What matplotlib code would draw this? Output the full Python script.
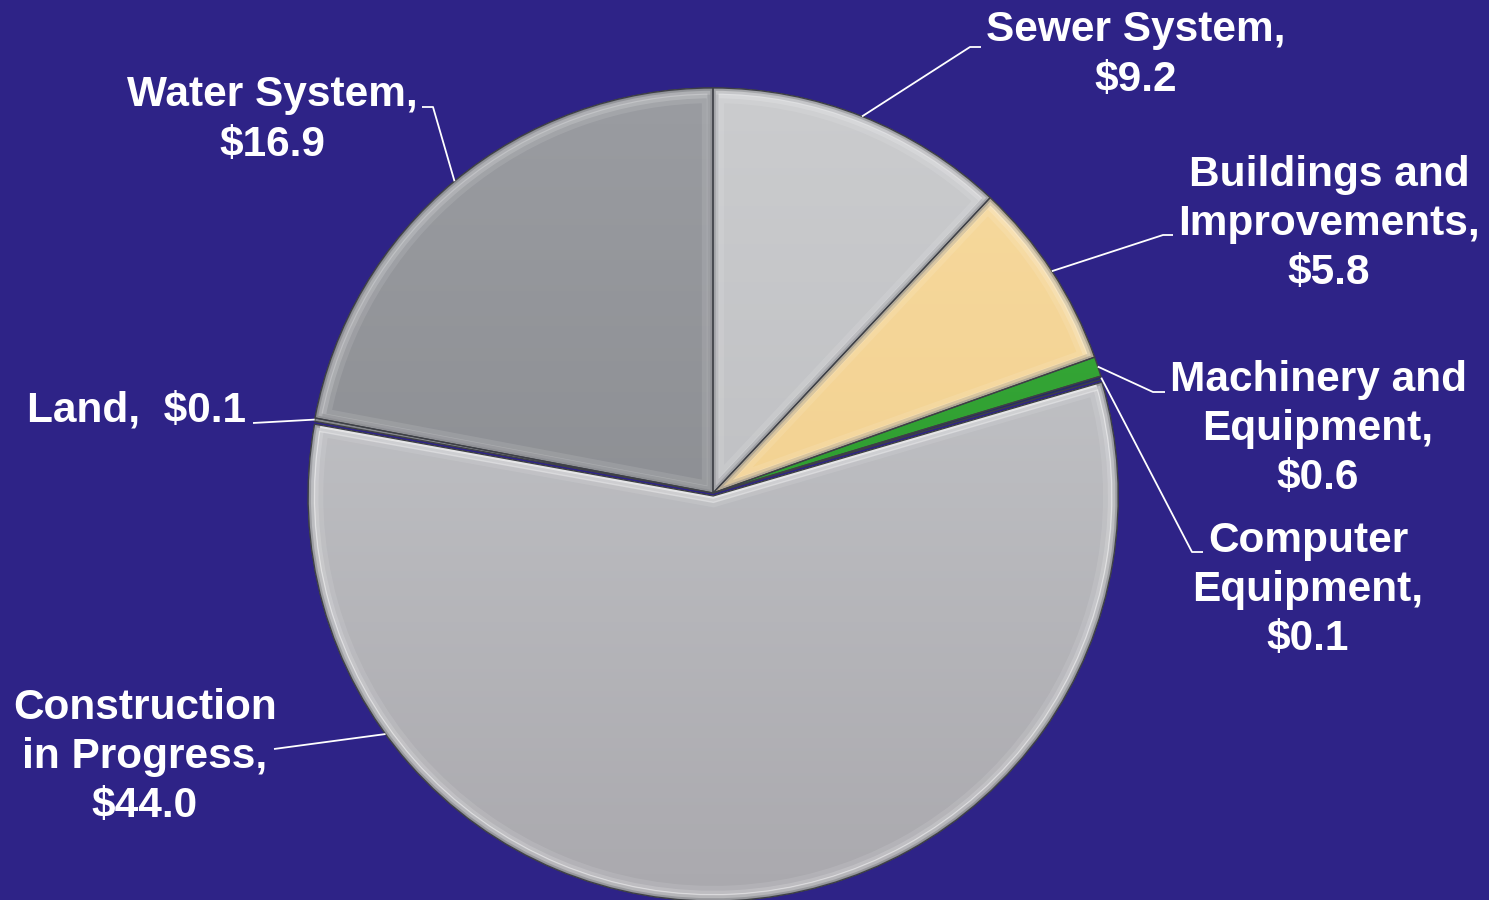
"""
Capital assets pie chart ($ millions) on a navy slide background.
Wedges drawn with ax.pie, then shaded with clipped gradients and a bevel.
"""
import matplotlib; matplotlib.use("Agg")
import numpy as np
import matplotlib.pyplot as plt
import matplotlib.colors as mcolors
from matplotlib.patches import Wedge

# ── data ─────────────────────────────────────────────────────────────
CATEGORIES = ["Sewer System", "Buildings and Improvements", "Machinery and Equipment",
              "Computer Equipment", "Construction in Progress", "Land", "Water System"]
VALUES = [9.2, 5.8, 0.6, 0.1, 44.0, 0.1, 16.9]
LABELS = ["Sewer System,\n$9.2", "Buildings and\nImprovements,\n$5.8",
          "Machinery and\nEquipment,\n$0.6", "Computer\nEquipment,\n$0.1",
          "Construction\nin Progress,\n$44.0", "Land,  $0.1", "Water System,\n$16.9"]

# ── styling / layout (pixel coords, y down) ─────────────────────────
BG = "#2e2387"
TOP_COLORS = ["#cbccce", "#f7da9e", "#3fb23f", "#2b2f6e", "#cacccf", "#8c8e92", "#9a9ca1"]
BOT_COLORS = ["#b6b7bb", "#efcb88", "#1f8a22", "#23275e", "#aaa9ae", "#808286", "#828488"]
EXPLODE = [0, 0, 0, 0, 3, 0, 0]
CENTER = (713, 493)
RADIUS = 405
# label text centre, leader elbow, leader end, anchor angle override
TEXT_POS = [(1136, 55), (1329, 224), (1318, 429), (1308, 590),
            (145, 757), (246, 411), (272, 120)]
TEXT_HA = ["center", "center", "center", "center", "center", "right", "center"]
ELBOW = [(970, 47), (1163, 235), (1153, 392), (1192, 552),
         (274, 749), (253, 423), (433, 107)]
LEAD_END = [(981, 47), (1173, 235), (1165, 392), (1203, 552),
            None, None, (422, 107)]
ANCHOR_ANGLE = [None, None, None, None, 216.0, None, None]


def main():
    fig = plt.figure(figsize=(14.89, 9), dpi=100, facecolor=BG)
    ax = fig.add_axes([0, 0, 1, 1])
    ax.set_facecolor(BG)

    # y axis points down, so counterclockwise in data = clockwise on screen
    wedges, _ = ax.pie(VALUES, center=CENTER, radius=RADIUS, startangle=-90,
                       counterclock=True, explode=EXPLODE, colors=TOP_COLORS,
                       wedgeprops=dict(edgecolor="#3e4046", linewidth=0.9))

    for w, val, c_top, c_bot in zip(wedges, VALUES, TOP_COLORS, BOT_COLORS):
        cx, cy = w.center
        z = w.get_zorder()
        grad = np.linspace(0, 1, 256)[:, None]
        cmap = mcolors.LinearSegmentedColormap.from_list("g", [c_top, c_bot])
        im = ax.imshow(grad, cmap=cmap, aspect="auto", origin="upper",
                       extent=(cx - RADIUS, cx + RADIUS, cy + RADIUS, cy - RADIUS),
                       zorder=z + 0.1, interpolation="bilinear")
        im.set_clip_path(w)
        # re-stroke the thin separating edge above the gradient
        edge = Wedge(w.center, w.r, w.theta1, w.theta2, facecolor="none",
                     edgecolor="#3e4046", linewidth=0.9, zorder=z + 0.5)
        ax.add_patch(edge)
        if val < 1:
            continue
        # bevel: soft white highlight inside the edges, darker rim at the arc
        for lw, a in [(16, 0.10), (9, 0.16), (4, 0.22)]:
            hi = Wedge(w.center, w.r - 4, w.theta1, w.theta2, facecolor="none",
                       edgecolor="white", linewidth=lw, alpha=a, zorder=z + 0.2)
            ax.add_patch(hi)
            hi.set_clip_path(w)
        for lw, a in [(8, 0.18), (4, 0.3)]:
            rim = Wedge(w.center, w.r, w.theta1, w.theta2, facecolor="none",
                        edgecolor="#55575e", linewidth=lw, alpha=a, zorder=z + 0.3)
            ax.add_patch(rim)
            rim.set_clip_path(w)

    # white highlight along the top edges of the big lower slice
    cw = wedges[4]
    for lw, a in [(10, 0.35), (4, 0.6)]:
        hl = Wedge(cw.center, cw.r, cw.theta1, cw.theta2, facecolor="none",
                   edgecolor="white", linewidth=lw, alpha=a, zorder=cw.get_zorder() + 0.4)
        ax.add_patch(hl)
        hl.set_clip_path(Wedge(cw.center, cw.r - 6, cw.theta1, cw.theta2,
                               transform=ax.transData))

    # leader lines and labels
    for i, w in enumerate(wedges):
        cx, cy = w.center
        ang = ANCHOR_ANGLE[i]
        if ang is None:
            ang = 0.5 * (w.theta1 + w.theta2)
        else:
            ang = -ang  # screen angle -> data angle (y down)
        ax0 = cx + RADIUS * np.cos(np.radians(ang))
        ay0 = cy + RADIUS * np.sin(np.radians(ang))
        xs = [ax0, ELBOW[i][0]]
        ys = [ay0, ELBOW[i][1]]
        if LEAD_END[i] is not None:
            xs.append(LEAD_END[i][0]); ys.append(LEAD_END[i][1])
        ax.plot(xs, ys, color="white", lw=1.3, zorder=10, solid_capstyle="butt")
        ax.text(TEXT_POS[i][0], TEXT_POS[i][1], LABELS[i], ha=TEXT_HA[i],
                va="center", multialignment="center", color="white",
                fontsize=30.5, fontweight="bold", family="Liberation Sans",
                linespacing=1.3, zorder=11)

    ax.set_xlim(0, 1489)
    ax.set_ylim(900, 0)
    ax.set_aspect("equal")
    ax.axis("off")
    fig.savefig("out.png", dpi=100, facecolor=BG)
    plt.close(fig)


if __name__ == "__main__":
    main()
